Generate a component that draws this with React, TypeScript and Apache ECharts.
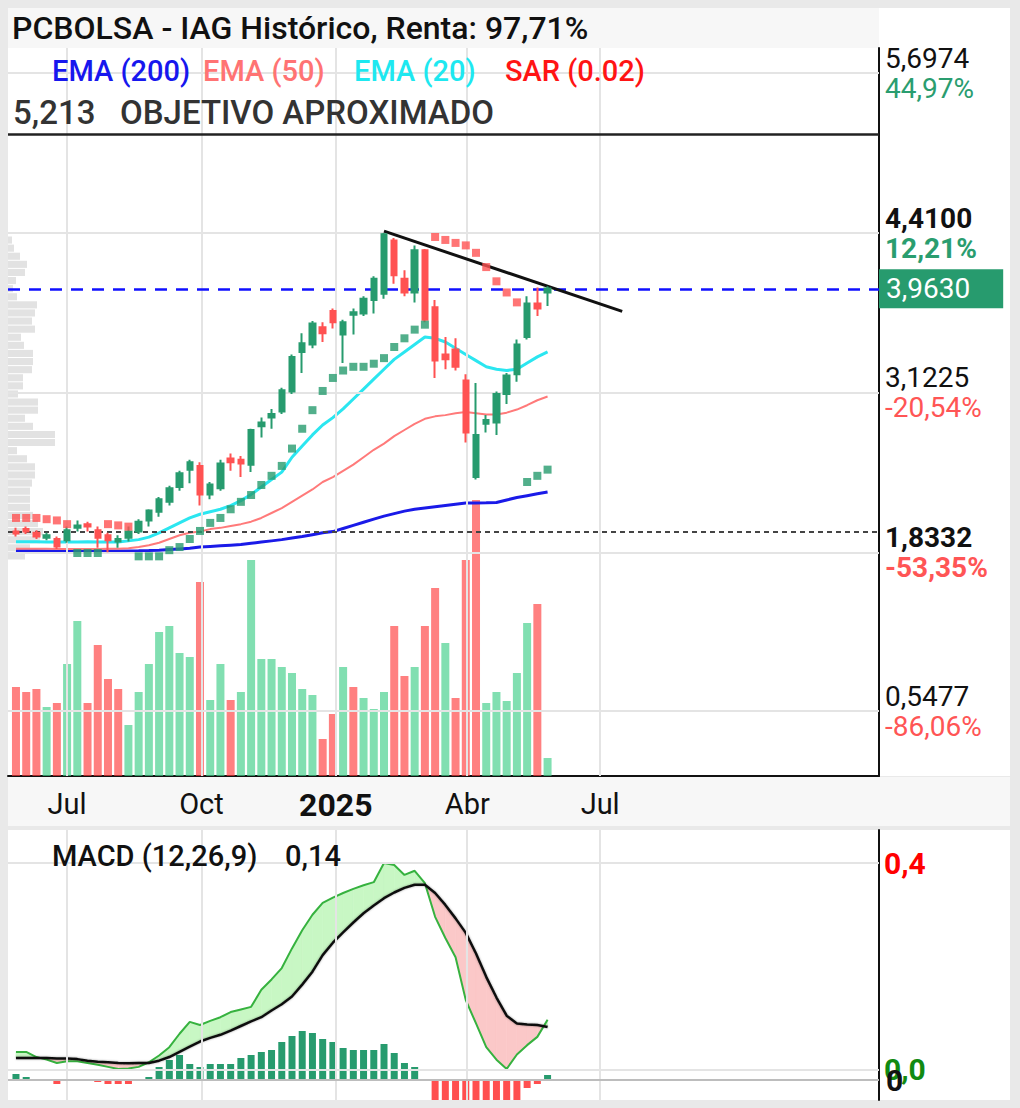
import React, { useEffect, useRef } from 'react';
import * as echarts from 'echarts';

// ---------- data (weekly bars, IAG) ----------
const FIRST_WEEK_UTC = Date.UTC(2024, 4, 27); // week 0 = week of 27 May 2024

// [open, close, low, high] per week
const candles: number[][] = [
  [2.00, 1.985, 1.96, 2.03], [2.02, 2.00, 1.98, 2.04], [1.99, 1.96, 1.94, 2.01], [1.95, 1.97, 1.93, 1.99],
  [1.94, 1.88, 1.86, 1.96], [1.93, 2.01, 1.91, 2.04], [2.03, 2.05, 2.00, 2.09], [2.06, 2.04, 2.00, 2.08],
  [2.01, 1.95, 1.87, 2.04], [1.97, 1.93, 1.8332, 1.99], [1.92, 1.94, 1.87, 1.97], [1.95, 2.00, 1.92, 2.04],
  [2.00, 2.08, 1.98, 2.10], [2.09, 2.17, 2.04, 2.18], [2.16, 2.26, 2.12, 2.28], [2.24, 2.35, 2.21, 2.37],
  [2.36, 2.47, 2.33, 2.49], [2.50, 2.56, 2.39, 2.58], [2.53, 2.30, 2.21, 2.56], [2.30, 2.38, 2.26, 2.40],
  [2.35, 2.55, 2.33, 2.58], [2.59, 2.56, 2.49, 2.63], [2.58, 2.55, 2.44, 2.61], [2.54, 2.82, 2.48, 2.83],
  [2.85, 2.88, 2.76, 2.92], [2.92, 2.95, 2.83, 2.99], [2.97, 3.14, 2.95, 3.16], [3.13, 3.41, 3.11, 3.43],
  [3.45, 3.52, 3.28, 3.60], [3.51, 3.68, 3.48, 3.70], [3.65, 3.60, 3.53, 3.69], [3.78, 3.69, 3.64, 3.80],
  [3.59, 3.69, 3.36, 3.71], [3.75, 3.77, 3.59, 3.80], [3.76, 3.88, 3.74, 3.90], [3.87, 4.04, 3.76, 4.06],
  [3.92, 4.40, 3.88, 4.41], [4.35, 4.07, 4.00, 4.37], [4.04, 3.93, 3.90, 4.11], [3.93, 4.27, 3.85, 4.31],
  [4.27, 3.71, 3.69, 4.28], [3.81, 3.38, 3.24, 3.87], [3.43, 3.39, 3.31, 3.57], [3.47, 3.33, 3.30, 3.56],
  [3.22, 2.80, 2.72, 3.27], [2.44, 2.78, 2.42, 3.20], [2.87, 2.90, 2.80, 2.94], [2.88, 3.11, 2.78, 3.13],
  [3.11, 3.26, 3.03, 3.28], [3.27, 3.51, 3.21, 3.55], [3.57, 3.84, 3.55, 3.90], [3.84, 3.80, 3.74, 3.97],
  [3.93, 3.963, 3.82, 3.98],
];

// weekly volume (millions) and its colour direction
const volumes = [
  44.5, 42, 43.5, 34.5, 36.5, 56, 77.5, 36.5, 65.5, 48.5, 43.5, 25.5, 42, 56, 72, 75, 61.5, 59.5, 97, 38,
  56, 38, 42, 108, 58.5, 58.5, 54.5, 51.5, 43.5, 40.5, 18.5, 31, 54.5, 44.5, 39, 33.5, 42, 75, 50, 54.5,
  75, 94, 66.5, 39, 108, 138, 36.5, 42, 37.5, 51.5, 76.5, 86, 9,
];
const volumeDir = [
  'd', 'd', 'd', 'u', 'd', 'u', 'u', 'd', 'd', 'd', 'd', 'u', 'u', 'u', 'u', 'u', 'u', 'u', 'd', 'u',
  'u', 'd', 'u', 'u', 'u', 'u', 'u', 'u', 'u', 'u', 'd', 'd', 'u', 'd', 'u', 'u', 'u', 'd', 'd', 'u',
  'd', 'd', 'u', 'd', 'd', 'd', 'u', 'u', 'u', 'u', 'u', 'd', 'u',
];

const ema200 = [
  1.846, 1.845, 1.845, 1.844, 1.844, 1.844, 1.843, 1.843, 1.843, 1.843, 1.844, 1.844, 1.845, 1.847,
  1.85, 1.855, 1.86, 1.865, 1.875, 1.88, 1.885, 1.89, 1.895, 1.905, 1.915, 1.925, 1.935, 1.948, 1.96,
  1.975, 1.99, 2.00, 2.025, 2.05, 2.075, 2.10, 2.125, 2.145, 2.165, 2.18, 2.19, 2.20, 2.21, 2.22, 2.23,
  2.23, 2.232, 2.235, 2.255, 2.275, 2.29, 2.305, 2.32,
];
const ema50 = [
  1.862, 1.862, 1.861, 1.861, 1.86, 1.86, 1.86, 1.86, 1.86, 1.861, 1.862, 1.866,
  1.875, 1.89, 1.91, 1.94, 1.97, 1.99, 2.00, 2.02, 2.03, 2.045, 2.06, 2.08, 2.11, 2.15, 2.19, 2.24,
  2.29, 2.34, 2.40, 2.44, 2.49, 2.54, 2.60, 2.66, 2.71, 2.77, 2.82, 2.87, 2.91, 2.93, 2.94, 2.955,
  2.965, 2.955, 2.945, 2.945, 2.96, 2.985, 3.02, 3.06, 3.09,
];
const ema20 = [
  1.918, 1.918, 1.917, 1.916, 1.915, 1.915, 1.916, 1.917, 1.916, 1.915, 1.915,
  1.925, 1.935, 1.955, 1.99, 2.03, 2.07, 2.11, 2.14, 2.16, 2.18, 2.21, 2.25, 2.30, 2.36, 2.42, 2.48,
  2.60, 2.69, 2.78, 2.86, 2.92, 2.99, 3.07, 3.15, 3.23, 3.31, 3.39, 3.45, 3.51, 3.57, 3.56, 3.53, 3.48,
  3.43, 3.38, 3.33, 3.31, 3.30, 3.31, 3.36, 3.41, 3.45,
];

// parabolic SAR value and side (u = below price, d = above price)
const sar = [
  2.11, 2.11, 2.11, 2.10, 2.09, 2.06, 1.827, 1.827, 1.827, 2.06, 2.05, 2.04,
  1.80, 1.80, 1.80, 1.85, 1.875, 1.94, 2.005, 2.07, 2.11, 2.18, 2.24, 2.295, 2.376, 2.45, 2.53, 2.67,
  2.83, 2.98, 3.135, 3.24, 3.30, 3.33, 3.33, 3.355, 3.40, 3.49, 3.56, 3.63, 3.67,
  4.378, 4.354, 4.33, 4.31, 4.25, 4.135, 4.02, 3.93, 3.85, 2.40, 2.45, 2.50,
];
const sarDir = [
  'd', 'd', 'd', 'd', 'd', 'd', 'u', 'u', 'u', 'd', 'd', 'd',
  'u', 'u', 'u', 'u', 'u', 'u', 'u', 'u', 'u', 'u', 'u', 'u', 'u', 'u', 'u', 'u', 'u', 'u', 'u', 'u',
  'u', 'u', 'u', 'u', 'u', 'u', 'u', 'u', 'u', 'd', 'd', 'd', 'd', 'd', 'd', 'd', 'd', 'd', 'u', 'u', 'u',
];

// MACD (12,26,9)
const macd = [
  0.035, 0.035, 0.025, 0.02, 0.0135, 0.017, 0.017, 0.0135, 0.01, 0.006, 0.002, 0.003, 0.006, 0.015,
  0.028, 0.044, 0.07, 0.093, 0.087, 0.095, 0.102, 0.112, 0.117, 0.122, 0.155, 0.175, 0.197, 0.235,
  0.27, 0.30, 0.323, 0.333, 0.342, 0.35, 0.357, 0.363, 0.40, 0.396, 0.377, 0.385, 0.361, 0.296, 0.255,
  0.218, 0.135, 0.09, 0.044, 0.02, 0.002, 0.03, 0.048, 0.064, 0.097,
];
const signal = [
  0.023, 0.023, 0.023, 0.023, 0.022, 0.022, 0.021, 0.018, 0.016, 0.015, 0.0135, 0.013, 0.0135, 0.0135,
  0.018, 0.025, 0.035, 0.045, 0.055, 0.062, 0.068, 0.076, 0.085, 0.094, 0.102, 0.115, 0.127, 0.142,
  0.165, 0.19, 0.222, 0.246, 0.266, 0.285, 0.303, 0.318, 0.332, 0.343, 0.352, 0.358, 0.358, 0.342,
  0.319, 0.293, 0.265, 0.225, 0.18, 0.14, 0.105, 0.09, 0.088, 0.087, 0.083,
];
const hist = [
  0.006, 0.003, 0, 0, -0.004, -0.001, 0, -0.001, -0.002, -0.004, -0.004, -0.004, -0.001, 0.003,
  0.013, 0.02, 0.025, 0.016, 0.013, 0.016, 0.016, 0.016, 0.022, 0.025, 0.028, 0.03, 0.038, 0.044,
  0.049, 0.047, 0.041, 0.038, 0.032, 0.03, 0.03, 0.03, 0.036, 0.027, 0.017, 0.013, -0.001,
  -0.02, -0.02, -0.02, -0.02, -0.02, -0.02, -0.02, -0.02, -0.02, -0.008, -0.004, 0.005,
];
const macdHeadline = 0.14;

// volume-by-price profile, top row first
const profile = [
  4, 6, 12, 19, 17, 8, 5, 9, 29, 27, 24, 27, 13, 16, 25, 25, 24, 15, 15, 10,
  30, 30, 17, 25, 47, 47, 9, 19, 27, 27, 24, 22, 22, 22, 25, 30, 35, 32, 22, 17,
];

// price axis levels and their change labels
const priceLevels = [5.6974, 4.41, 3.1225, 1.8332, 0.5477];
const pricePct = ['44,97%', '12,21%', '-20,54%', '-53,35%', '-86,06%'];
const priceBold = [false, true, false, true, false];
const lastPrice = 3.963;
const objective = 5.213;
const basePrice = 2.0045;
const trendLine = [[36, 4.425], [59.3, 3.777]]; // [week, price]

const monthTicks = [
  { date: [2024, 6, 1], text: 'Jul', year: false },
  { date: [2024, 9, 1], text: 'Oct', year: false },
  { date: [2025, 0, 1], text: '2025', year: true },
  { date: [2025, 3, 1], text: 'Abr', year: false },
  { date: [2025, 6, 1], text: 'Jul', year: false },
];
const macdLevels = [0.4, 0];

const legendItems = [
  { text: 'EMA (200)', color: '#1717ee' },
  { text: 'EMA (50)', color: '#ff7373' },
  { text: 'EMA (20)', color: '#1ee8f0' },
  { text: 'SAR (0.02)', color: '#ff1414' },
];

// ---------- styling ----------
const FONT = 'Roboto, "Noto Sans", sans-serif';
const GREEN = '#279b6e';
const RED = '#ff5252';
const GREEN_TXT = '#2a9d6f';
const RED_TXT = '#ff5555';
const GRID_LINE = '#e4e4e4';
const FILL_UP = '#c8f7c4';
const FILL_DN = '#fbc8c8';
const X_MIN = -0.78;
const X_MAX = 84.42;

const fmt4 = (v: number) => v.toFixed(4).replace('.', ',');
const fmt3 = (v: number) => v.toFixed(3).replace('.', ',');
const fmt2 = (v: number) => v.toFixed(2).replace('.', ',');
const fmt1 = (v: number) => v.toFixed(1).replace('.', ',');

const weekOf = (d: number[]) => (Date.UTC(d[0], d[1], d[2]) - FIRST_WEEK_UTC) / (7 * 86400000);

function bandRenderItem(_params: any, api: any) {
  const i = api.value(0) as number;
  const m0 = macd[i], m1 = macd[i + 1], s0 = signal[i], s1 = signal[i + 1];
  const d0 = m0 - s0, d1 = m1 - s1;
  const P = (x: number, y: number) => api.coord([x, y]);
  const col = (d: number) => (d >= 0 ? FILL_UP : FILL_DN);
  const poly = (pts: number[][], c: string) => ({
    type: 'polygon', shape: { points: pts }, style: { fill: c, stroke: c, lineWidth: 0.6 },
  });
  if (d0 * d1 >= 0) {
    const d = Math.abs(d0) >= Math.abs(d1) ? d0 : d1;
    return poly([P(i, m0), P(i + 1, m1), P(i + 1, s1), P(i, s0)], col(d));
  }
  const t = d0 / (d0 - d1);
  const xi = i + t;
  const yi = m0 + t * (m1 - m0);
  return {
    type: 'group',
    children: [
      poly([P(i, m0), P(xi, yi), P(i, s0)], col(d0)),
      poly([P(xi, yi), P(i + 1, m1), P(i + 1, s1)], col(d1)),
    ],
  };
}

function buildOption() {
  const tickWeeks = monthTicks.map((t) => weekOf(t.date));
  const labelFor = (v: number) => {
    const k = tickWeeks.findIndex((w) => Math.abs(w - v) < 1e-6);
    if (k < 0) return '';
    return monthTicks[k].year ? `{y|${monthTicks[k].text}}` : monthTicks[k].text;
  };
  const xy = (arr: number[]) => arr.map((v, i) => [i, v]);
  const empty: any[] = [];

  const priceLabelLines = priceLevels.map((v, k) => {
    const w = priceBold[k] ? 'bold' : 'normal';
    return {
      yAxis: v,
      label: {
        show: true, position: 'end', distance: 6,
        formatter: () => `{v|${fmt4(v)}}\n{p|${pricePct[k]}}`,
        rich: {
          v: { fontSize: 28, lineHeight: 30, color: '#111', fontWeight: w, fontFamily: FONT },
          p: { fontSize: 28, lineHeight: 30, color: pricePct[k].startsWith('-') ? RED_TXT : GREEN_TXT, fontWeight: w, fontFamily: FONT },
        },
      },
    };
  });

  return {
    animation: false,
    textStyle: { fontFamily: FONT },
    grid: [
      { left: 8, top: 48, width: 871, height: 728, outerBoundsMode: 'none' },
      { left: 8, top: 830, width: 871, height: 270, outerBoundsMode: 'none' },
      { left: 8, top: 236, width: 871, height: 324, outerBoundsMode: 'none' },
    ],
    xAxis: [
      {
        type: 'value', gridIndex: 0, min: X_MIN, max: X_MAX,
        axisLine: { show: true, onZero: false, lineStyle: { color: '#111', width: 2 } },
        axisTick: { show: false },
        splitLine: { show: false },
        axisLabel: {
          customValues: tickWeeks,
          formatter: (v: number) => labelFor(v),
          color: '#111', fontSize: 29, fontFamily: FONT, margin: 13,
          rich: { y: { fontSize: 32, fontWeight: 'bold', color: '#111', fontFamily: FONT } },
        },
      },
      { type: 'value', gridIndex: 1, min: X_MIN, max: X_MAX, show: false },
      { type: 'value', gridIndex: 2, min: 0, max: 871, show: false },
    ],
    yAxis: [
      {
        type: 'value', gridIndex: 0, position: 'right', min: 0.0271, max: 5.9033,
        axisLine: { show: true, onZero: false, lineStyle: { color: '#111', width: 2 } },
        axisTick: { show: false }, axisLabel: { show: false }, splitLine: { show: false },
      },
      { type: 'value', gridIndex: 0, min: 0, max: 364, show: false },
      {
        type: 'value', gridIndex: 1, position: 'right', min: -0.058, max: 0.4638,
        axisLine: { show: true, onZero: false, lineStyle: { color: '#111', width: 2 } },
        axisTick: { show: false }, axisLabel: { show: false }, splitLine: { show: false },
      },
      { type: 'value', gridIndex: 1, min: -0.02, max: 0.25, show: false },
      { type: 'category', gridIndex: 2, inverse: true, data: profile.map((_, i) => String(i)), show: false },
    ],
    graphic: [
      { type: 'rect', z: -10, silent: true, shape: { x: 0, y: 0, width: 1020, height: 1108 }, style: { fill: '#e9e9e9' } },
      { type: 'rect', z: -9, silent: true, shape: { x: 8, y: 8, width: 1002, height: 768 }, style: { fill: '#ffffff' } },
      { type: 'rect', z: -8, silent: true, shape: { x: 8, y: 8, width: 871, height: 40 }, style: { fill: '#f7f7f7' } },
      { type: 'rect', z: -8, silent: true, shape: { x: 8, y: 777, width: 1002, height: 49 }, style: { fill: '#f7f7f7' } },
      { type: 'rect', z: -9, silent: true, shape: { x: 8, y: 830, width: 1002, height: 270 }, style: { fill: '#ffffff' } },
      {
        type: 'text', z: 20, x: 12, y: 28, silent: true,
        style: { text: 'PCBOLSA - IAG Histórico, Renta: 97,71%', fontSize: 32, fontWeight: 500, fontFamily: FONT, fill: '#111', verticalAlign: 'middle' },
      },
      ...legendItems.map((l, k) => ({
        type: 'text', z: 20, x: 52 + k * 151, y: 71, silent: true,
        style: { text: l.text, fontSize: 29, fontWeight: 500, fontFamily: FONT, fill: l.color, verticalAlign: 'middle' },
      })),
      {
        type: 'text', z: 20, x: 52, y: 856, silent: true,
        style: { text: 'MACD (12,26,9)', fontSize: 29, fontWeight: 500, fontFamily: FONT, fill: '#111', verticalAlign: 'middle' },
      },
      {
        type: 'text', z: 20, x: 285, y: 856, silent: true,
        style: { text: fmt2(macdHeadline), fontSize: 29, fontWeight: 500, fontFamily: FONT, fill: '#111', verticalAlign: 'middle' },
      },
    ],
    series: [
      // volume profile
      {
        type: 'bar', xAxisIndex: 2, yAxisIndex: 4, data: profile, z: 1, silent: true,
        barCategoryGap: '12%', itemStyle: { color: 'rgba(185,185,185,0.42)' },
      },
      // main grid lines + right axis labels
      {
        type: 'line', xAxisIndex: 0, yAxisIndex: 0, data: empty, z: 1, silent: true,
        markLine: {
          silent: true, symbol: ['none', 'none'], animation: false,
          lineStyle: { color: GRID_LINE, width: 2, type: 'solid' },
          label: { show: false },
          data: [...tickWeeks.map((w) => ({ xAxis: w })), ...priceLabelLines],
        },
      },
      // volume
      {
        type: 'bar', xAxisIndex: 0, yAxisIndex: 1, barWidth: 8, z: 2, silent: true,
        data: volumes.map((v, i) => ({
          value: [i, v],
          itemStyle: { color: volumeDir[i] === 'u' ? 'rgba(70,208,140,0.68)' : 'rgba(255,60,60,0.65)' },
        })),
      },
      // EMAs
      { type: 'line', xAxisIndex: 0, yAxisIndex: 0, data: xy(ema200), symbol: 'none', z: 3, lineStyle: { color: '#1a1ae8', width: 3 } },
      { type: 'line', xAxisIndex: 0, yAxisIndex: 0, data: xy(ema50), symbol: 'none', z: 3, lineStyle: { color: '#ff7a7a', width: 2 } },
      { type: 'line', xAxisIndex: 0, yAxisIndex: 0, data: xy(ema20), symbol: 'none', z: 3, lineStyle: { color: '#2be6f0', width: 3 } },
      // candles
      {
        type: 'candlestick', xAxisIndex: 0, yAxisIndex: 0, z: 5, barWidth: 6,
        data: candles.map((c, i) => [i, c[0], c[1], c[2], c[3]]),
        itemStyle: { color: GREEN, color0: RED, borderColor: GREEN, borderColor0: RED, borderWidth: 2 },
      },
      // SAR
      {
        type: 'scatter', xAxisIndex: 0, yAxisIndex: 0, z: 6, symbol: 'rect', symbolSize: 8, silent: true,
        data: sar.map((v, i) => ({ value: [i, v], itemStyle: { color: sarDir[i] === 'u' ? GREEN : RED } })),
      },
      // reference lines
      {
        type: 'line', xAxisIndex: 0, yAxisIndex: 0, data: empty, z: 8, silent: true,
        markLine: {
          silent: true, symbol: ['none', 'none'], animation: false,
          data: [
            {
              yAxis: objective,
              lineStyle: { color: '#222', width: 2.5, type: 'solid' },
              label: {
                show: true, position: 'insideStartTop', distance: 5,
                formatter: () => `${fmt3(objective)}   OBJETIVO APROXIMADO`,
                color: '#333', fontSize: 33, fontWeight: 500, fontFamily: FONT,
              },
            },
            { yAxis: basePrice, lineStyle: { color: '#444', width: 2, type: [5, 4] }, label: { show: false } },
            {
              yAxis: lastPrice,
              lineStyle: { color: '#1010ff', width: 2.5, type: [12, 9] },
              label: {
                show: true, position: 'end', distance: 0,
                formatter: () => fmt4(lastPrice),
                color: '#fff', backgroundColor: GREEN, padding: [6, 33, 5, 7],
                fontSize: 28, fontFamily: FONT,
              },
            },
            [
              { coord: trendLine[0], lineStyle: { color: '#111', width: 3, type: 'solid' }, label: { show: false } },
              { coord: trendLine[1], lineStyle: { color: '#111', width: 3, type: 'solid' }, label: { show: false } },
            ],
          ],
        },
      },
      // MACD grid lines + labels
      {
        type: 'line', xAxisIndex: 1, yAxisIndex: 2, data: empty, z: 1, silent: true,
        markLine: {
          silent: true, symbol: ['none', 'none'], animation: false,
          lineStyle: { color: GRID_LINE, width: 2, type: 'solid' },
          label: { show: false },
          data: [
            ...tickWeeks.map((w) => ({ xAxis: w })),
            ...macdLevels.map((v) => ({
              yAxis: v,
              label: {
                show: true, position: 'end', distance: 5,
                formatter: () => fmt1(v),
                color: v > 0 ? '#ff0000' : '#118a11', fontSize: 30, fontWeight: 'bold', fontFamily: FONT,
              },
            })),
          ],
        },
      },
      // MACD / signal band fill
      {
        type: 'custom', xAxisIndex: 1, yAxisIndex: 2, z: 2, silent: true, clip: true,
        data: macd.slice(0, -1).map((m, i) => [i, m]),
        renderItem: bandRenderItem,
      },
      // histogram
      {
        type: 'bar', xAxisIndex: 1, yAxisIndex: 3, barWidth: 7, z: 3, silent: true,
        data: hist.map((v, i) => ({ value: [i, v], itemStyle: { color: v >= 0 ? GREEN : '#ff4f4f' } })),
        markLine: {
          silent: true, symbol: ['none', 'none'], animation: false,
          lineStyle: { color: '#bdbdbd', width: 2, type: 'solid' },
          data: [{
            yAxis: 0,
            label: { show: true, position: 'end', distance: 7, formatter: () => '0', color: '#111', fontSize: 30, fontWeight: 'bold', fontFamily: FONT },
          }],
        },
      },
      // MACD & signal lines
      { type: 'line', xAxisIndex: 1, yAxisIndex: 2, data: xy(macd), symbol: 'none', z: 4, lineStyle: { color: '#36b23f', width: 2 } },
      { type: 'line', xAxisIndex: 1, yAxisIndex: 2, data: xy(signal), symbol: 'none', z: 4, lineStyle: { color: '#111', width: 2.5, shadowColor: 'rgba(0,0,0,0.35)', shadowBlur: 2 } },
    ],
  };
}

export default function App() {
  const ref = useRef<HTMLDivElement>(null);
  useEffect(() => {
    if (!ref.current) return;
    const chart = echarts.init(ref.current, undefined, { renderer: 'svg' });
    chart.setOption(buildOption() as any);
    return () => chart.dispose();
  }, []);
  return (
    <div style={{ position: 'absolute', left: 0, top: 0, width: 1020, height: 1108 }}>
      <div ref={ref} style={{ width: 1020, height: 1108 }} />
    </div>
  );
}
